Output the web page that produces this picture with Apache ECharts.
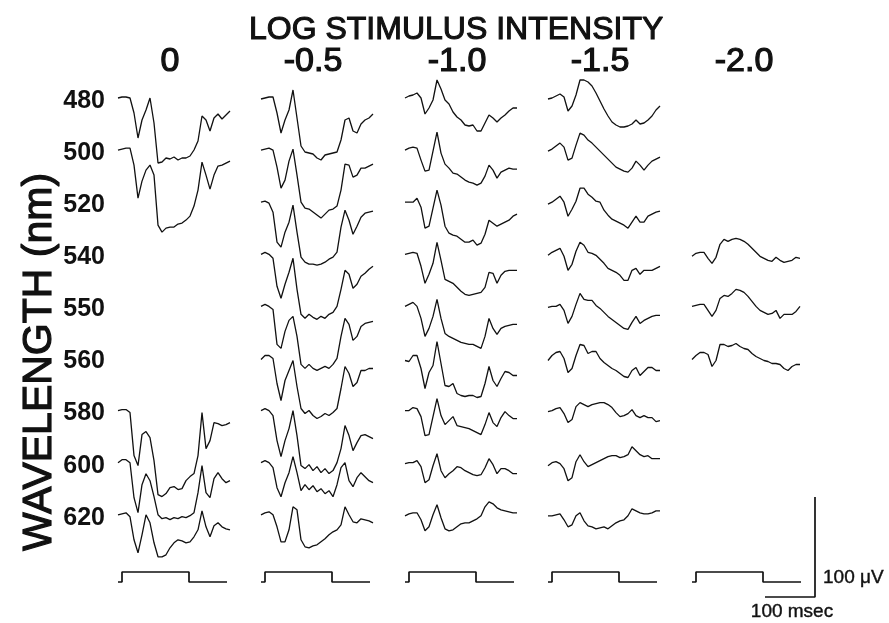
<!DOCTYPE html>
<html>
<head>
<meta charset="utf-8">
<title>Log stimulus intensity series</title>
<script src="https://cdn.jsdelivr.net/npm/echarts@6/dist/echarts.min.js"></script>
<style>
  html, body { margin: 0; padding: 0; background: #fff; }
  #chart { width: 889px; height: 623px; }
</style>
</head>
<body>
<div id="chart"></div>
<script>
// rows = wavelength (nm), columns = log stimulus intensity
var wavelengths = [480, 500, 520, 540, 550, 560, 580, 600, 620];
var intensities = ['0', '-0.5', '-1.0', '-1.5', '-2.0'];

// responses in uV, one sample every 8 ms (null = no record)
var col0 = [
  [0,1,1,0,-15,-40,-22,-12,0,-25,-65,-64,-60,-61,-59,-62,-60,-60,-58,-52,-43,-18,-22,-33,-20,-16,-21,-17,-13],
  [0,1,2,2,-15,-48,-31,-20,-15,-25,-75,-82,-78,-77,-77,-74,-73,-70,-66,-56,-40,-12,-25,-39,-25,-16,-15,-13,-11],
  null, null, null, null,
  [0,1,1,-2,-45,-55,-24,-21,-27,-50,-84,-86,-83,-77,-76,-79,-78,-70,-66,-63,-45,-2,-38,-30,-12,-13,-15,-14,-12],
  [0,3,3,0,-35,-50,-22,-11,-18,-34,-52,-56,-55,-57,-55,-56,-54,-55,-53,-50,-30,-3,-30,-35,-16,-10,-16,-20,-18],
  [0,1,2,-2,-25,-38,-20,0,-8,-28,-42,-42,-40,-33,-28,-25,-26,-28,-27,-22,-15,4,-12,-22,-11,-8,-12,-14,-15]
];
var col1 = [
  [-1,0,1,1,-15,-35,-22,-12,8,-20,-48,-54,-55,-56,-60,-62,-57,-56,-55,-54,-42,-22,-20,-33,-35,-26,-22,-20,-16],
  [0,1,2,0,-17,-38,-30,-11,1,-25,-52,-58,-59,-62,-65,-68,-64,-60,-59,-56,-40,-14,-15,-27,-25,-18,-18,-16,-14],
  [0,1,-1,-10,-40,-45,-30,-20,-3,-30,-55,-60,-62,-62,-63,-62,-60,-57,-55,-50,-25,-8,-18,-32,-24,-15,-11,-10,-9],
  [0,2,0,-4,-32,-44,-30,-18,-4,-35,-60,-64,-60,-63,-65,-62,-64,-60,-58,-52,-35,-16,-20,-34,-30,-22,-19,-15,-12],
  [0,2,0,-3,-38,-42,-25,-14,-10,-30,-58,-62,-58,-62,-64,-62,-60,-62,-58,-52,-30,-12,-18,-34,-30,-20,-17,-16,-15],
  [-1,3,3,0,-25,-42,-22,-12,-2,-28,-50,-55,-52,-57,-60,-58,-55,-57,-54,-50,-30,-8,-15,-28,-24,-12,-12,-10,-10],
  [0,2,0,-5,-30,-46,-30,-18,0,-25,-55,-58,-54,-60,-56,-62,-58,-63,-60,-52,-38,-15,-25,-40,-32,-25,-24,-26,-28],
  [0,2,0,-5,-25,-34,-20,-10,6,-10,-28,-22,-27,-23,-29,-26,-31,-28,-34,-22,-5,0,-18,-24,-15,-10,-14,-18,-20],
  [0,2,3,0,-12,-27,-27,-15,8,5,-25,-32,-33,-31,-30,-27,-24,-20,-17,-15,-10,8,0,-7,-8,-4,-5,-6,-8]
];
var col2 = [
  [0,2,3,5,0,-16,-10,-2,18,9,-2,-6,-14,-19,-22,-27,-28,-27,-33,-33,-25,-17,-20,-24,-20,-17,-13,-10,-10],
  [0,2,3,2,-10,-21,-20,-1,18,-3,-14,-18,-23,-24,-27,-30,-32,-33,-35,-33,-26,-15,-20,-28,-22,-20,-18,-19,-19],
  [0,0,0,4,-5,-26,-24,-6,12,-3,-24,-31,-33,-34,-37,-40,-40,-38,-43,-41,-32,-18,-21,-24,-22,-20,-18,-14,-12],
  [0,1,2,1,-12,-29,-20,-9,12,-6,-25,-27,-29,-33,-37,-40,-41,-40,-39,-38,-33,-18,-19,-29,-21,-17,-16,-16,-16],
  [0,2,4,0,-12,-30,-22,-10,7,-12,-27,-30,-32,-34,-36,-37,-38,-38,-40,-42,-30,-12,-22,-28,-22,-20,-19,-18,-18],
  [-2,-3,3,3,-10,-30,-14,-7,17,-5,-27,-28,-25,-35,-37,-38,-37,-37,-39,-38,-25,-8,-22,-28,-20,-13,-14,-17,-17],
  [0,0,3,2,-6,-25,-24,-6,12,-5,-14,-10,-6,-15,-16,-17,-18,-20,-22,-24,-14,-2,-12,-16,-7,-1,-5,-8,-8],
  [-1,0,0,2,-4,-20,-17,-3,9,-8,-15,-11,-8,-4,-5,-8,-10,-12,-13,-12,-5,4,-2,-11,-6,-6,-8,-11,-11],
  [-1,1,2,2,-5,-16,-12,0,10,-3,-14,-16,-15,-12,-9,-8,-8,-6,-4,-1,8,13,11,7,5,4,3,2,2]
];
var col3 = [
  [-1,0,2,4,1,-13,-8,3,18,18,16,12,5,-3,-11,-18,-24,-27,-29,-29,-28,-26,-22,-26,-25,-22,-18,-12,-8],
  [-1,1,4,7,3,-10,-8,5,17,15,10,7,3,-1,-5,-9,-13,-17,-19,-21,-22,-18,-11,-15,-20,-15,-11,-9,-7],
  [-2,0,3,6,0,-14,-7,1,14,14,8,5,1,0,-8,-13,-17,-19,-21,-23,-26,-20,-14,-20,-20,-14,-12,-10,-9],
  [-1,2,4,6,-2,-16,-10,3,12,9,2,1,-1,-5,-9,-14,-16,-18,-21,-26,-26,-16,-14,-20,-16,-16,-16,-14,-12],
  [-1,0,0,2,-4,-17,-10,2,13,7,6,6,1,-2,-6,-10,-13,-16,-19,-22,-23,-16,-10,-17,-14,-12,-10,-9,-9],
  [-2,3,6,7,0,-14,-10,3,14,13,5,7,7,0,-4,-7,-10,-12,-15,-18,-19,-12,-9,-17,-13,-9,-9,-12,-12],
  [-1,0,2,3,-3,-12,-9,4,8,6,4,6,7,8,8,6,3,-2,-6,-5,-3,1,-5,-7,-5,-7,-7,-11,-10],
  [-3,0,1,-1,-6,-18,-15,1,8,1,-4,-2,0,2,4,6,7,7,5,6,8,16,12,8,6,7,4,4,4],
  [-1,-1,0,1,-5,-12,-10,-1,2,-6,-11,-12,-14,-13,-12,-14,-11,-8,-6,-5,-1,6,4,2,1,1,2,4,4]
];
var col4 = [
  null, null, null,
  [-2,1,2,2,-4,-9,-3,10,15,13,15,16,15,13,10,6,2,-2,-4,-6,-7,-3,-6,-8,-7,-6,-3,-4],
  [0,1,2,2,-4,-10,-4,8,11,10,13,17,16,14,10,5,0,-4,-6,-8,-7,-4,-12,-8,-8,-8,-5,0],
  [-1,3,6,6,4,-8,-2,14,14,12,13,15,12,10,9,5,2,0,-2,-3,-5,-5,-6,-10,-12,-8,-6,-6],
  null, null, null
];
var sampleMs = 8;

// light stimulus monitor (ms, relative level)
var stimMs = [0, 8, 8, 142, 142, 218];
var stimLevel = [0, 0, 10, 10, 0, 0];

// calibration bars
var scaleMs = 100;
var scaleUv = 100;

// ---- layout (axis units: x in ms, y in uV) ----
var colStart = [0, 286, 574, 860, 1148];
var rowTop = 525, rowPitch = 52.1;
function rowBase(r) { return rowTop - rowPitch * r; }
var stimBase = 41;
var headerY = 561;
var labelX = -26;
var barCorner = [1394, 26];

var FONT = '"Liberation Sans", Arial, sans-serif';
var INK = '#111';

var series = [];
var columns = [col0, col1, col2, col3, col4];
columns.forEach(function (col, c) {
  col.forEach(function (vals, r) {
    if (!vals) return;
    series.push({
      type: 'line', silent: true, symbol: 'none', animation: false,
      lineStyle: { color: INK, width: 1.3 },
      data: vals.map(function (v, i) { return [colStart[c] + i * sampleMs, rowBase(r) + v]; })
    });
  });
  series.push({
    type: 'line', silent: true, symbol: 'none', animation: false,
    lineStyle: { color: INK, width: 1.7 },
    data: stimMs.map(function (t, i) { return [colStart[c] + t, stimBase + stimLevel[i]]; })
  });
});

// calibration bar
series.push({
  type: 'line', silent: true, symbol: 'none', animation: false,
  lineStyle: { color: INK, width: 1.7 },
  data: [
    [barCorner[0] - scaleMs, barCorner[1]],
    [barCorner[0], barCorner[1]],
    [barCorner[0], barCorner[1] + scaleUv]
  ]
});

function textSeries(points, size, weight, pos, border) {
  return {
    type: 'scatter', silent: true, symbolSize: 0, animation: false,
    itemStyle: { opacity: 1 },
    data: points,
    label: {
      show: true, position: pos, distance: 0, opacity: 1,
      formatter: function (p) { return p.value[2]; },
      fontFamily: FONT, fontSize: size, fontWeight: weight, color: INK,
      textBorderColor: INK, textBorderWidth: border
    }
  };
}

series.push(textSeries(intensities.map(function (s, c) {
  return [colStart[c] + 104, headerY, s];
}), 34, 'normal', 'inside', 1.2));

series.push(textSeries(wavelengths.map(function (w, r) {
  return [labelX, rowBase(r) - 3, String(w)];
}), 25, 'bold', 'left', 0));

series.push(textSeries([
  [barCorner[0] + 16, barCorner[1] + 19, scaleUv + ' \u03bcV']
], 19, 'normal', 'right', 0.4));
series.push(textSeries([
  [barCorner[0] - 46, barCorner[1] - 15, scaleMs + ' msec']
], 19, 'normal', 'inside', 0.4));

var chart = echarts.init(document.getElementById('chart'));
chart.setOption({
  backgroundColor: '#fff',
  animation: false,
  title: {
    text: 'LOG STIMULUS INTENSITY',
    left: 249, top: 14, padding: 0,
    textStyle: {
      fontFamily: FONT, fontSize: 32, fontWeight: 'normal', color: INK,
      textBorderColor: INK, textBorderWidth: 1.1
    }
  },
  grid: { left: 0, right: 0, top: 0, bottom: 0 },
  xAxis: { type: 'value', min: -236, max: 1542, show: false },
  yAxis: { type: 'value', min: 0, max: 623, show: false },
  graphic: [{
    type: 'text', x: 40, y: 362, rotation: Math.PI / 2,
    style: {
      text: 'WAVELENGTH (nm)', fontFamily: FONT, fontSize: 41,
      align: 'center', verticalAlign: 'middle',
      textAlign: 'center', textVerticalAlign: 'middle',
      fill: INK, stroke: INK, lineWidth: 1.2
    }
  }],
  series: series
});
</script>
</body>
</html>
